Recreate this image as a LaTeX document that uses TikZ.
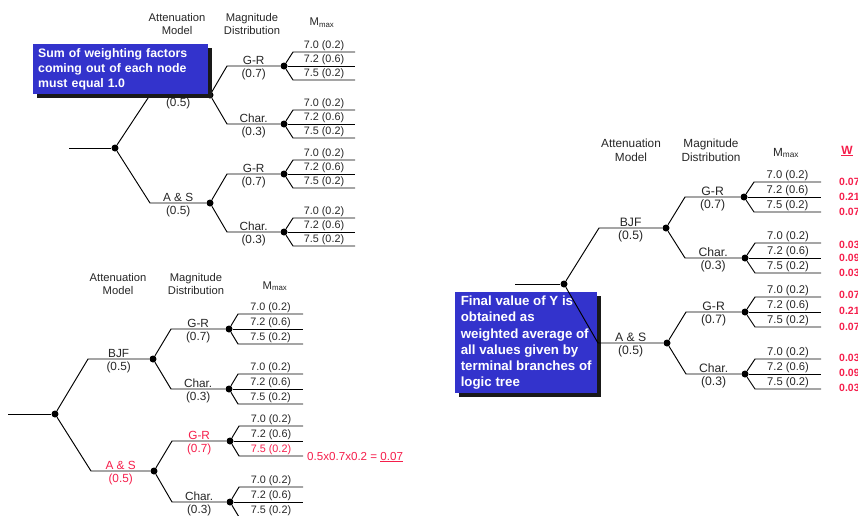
\documentclass[tikz,border=0pt]{standalone}
\usepackage{fontspec}
\setmainfont{Liberation Sans}
\usetikzlibrary{shadows}
\definecolor{tred}{RGB}{245,30,75}
\definecolor{nblue}{RGB}{51,51,204}
% branch: #1 parent, #2 child, #3 bend x, #4 y, #5 child x, #6 top label, #7 bottom label, #8 colour
\newcommand\treebr[8]{%
  \coordinate (#2b) at (#3,#4);
  \node[dot] (#2) at (#5,#4) {};
  \draw[ln] (#1) -- (#2b) -- (#2);
  \path (#2b) -- (#2) node[midway, above, tl, inner ysep=0.8pt, text=#8] (#2t) {#6}
                      node[midway, below, tl, inner ysep=2.6pt, text=#8] (#2l) {#7};
}
% fan: #1 node, #2 x, #3 y, #4 end x, #5 dy, #6 bend dx, #7 colour of third label
\newcommand\mfan[7]{%
  \coordinate (#1ub) at ({#2+#6},{#3-#5});
  \coordinate (#1ue) at (#4,{#3-#5});
  \coordinate (#1mb) at ({#2+#6},#3);
  \coordinate (#1me) at (#4,#3);
  \coordinate (#1lb) at ({#2+#6},{#3+#5});
  \coordinate (#1le) at (#4,{#3+#5});
  \draw[ln] (#1) -- (#1ub) -- (#1ue);
  \draw[ln] (#1) -- (#1me);
  \draw[ln] (#1) -- (#1lb) -- (#1le);
  \path (#1ub) -- (#1ue) node[midway, fl] (#1x) {7.0 (0.2)};
  \path (#1mb) -- (#1me) node[midway, fl] (#1y) {7.2 (0.6)};
  \path (#1lb) -- (#1le) node[midway, fl, text=#7] (#1z) {7.5 (0.2)};
}
\tikzset{
  ln/.style={line width=0.95pt, draw=black},
  dot/.style={circle, fill=black, inner sep=0pt, minimum size=7pt},
  hdr/.style={align=center, inner sep=0pt, text=black!85},
  tl/.style={font=\fontsize{11.8}{13}\selectfont, inner xsep=1pt, text=black!85},
  fl/.style={font=\fontsize{10.8}{12}\selectfont, above, inner sep=0.6pt, text=black!85},
  note/.style={fill=nblue, text=white, align=left, anchor=north west, inner ysep=2pt,
    drop shadow={fill=black!90, opacity=1, shadow xshift=4pt, shadow yshift=-4pt}},
  wv/.style={anchor=west, text=tred, font=\bfseries\fontsize{10.5}{12}\selectfont, inner sep=0pt}
}
\begin{document}
\begin{tikzpicture}[x=1pt, y=-1pt]
\useasboundingbox (0,0) rectangle (858,515);
% ---------------- tree A (top left) ----------------
\begin{scope}[hdr/.append style={font=\fontsize{11.2}{13.5}\selectfont}]
\node[hdr] (hA1) at (177,24) {Attenuation\\Model};
\node[hdr] (hA2) at (252,24) {Magnitude\\Distribution};
\node[hdr] (hA3) at (322,23) {M\textsubscript{max}};
\coordinate (rA) at (69,148);
\node[dot] (A0) at (115,148) {};
\draw[ln] (rA) -- (A0);
\treebr{A0}{A1}{150}{95}{210}{BJF}{(0.5)}{black!85}
\treebr{A0}{A2}{150}{203}{210}{A \& S}{(0.5)}{black!85}
\treebr{A1}{A11}{227}{66}{284}{G-R}{(0.7)}{black!85}
\treebr{A1}{A12}{227}{124}{284}{Char.}{(0.3)}{black!85}
\treebr{A2}{A21}{227}{174}{284}{G-R}{(0.7)}{black!85}
\treebr{A2}{A22}{227}{232}{284}{Char.}{(0.3)}{black!85}
\mfan{A11}{284}{66}{355}{14}{9}{black!85}
\mfan{A12}{284}{124}{355}{14}{9}{black!85}
\mfan{A21}{284}{174}{355}{14}{9}{black!85}
\mfan{A22}{284}{232}{355}{14}{9}{black!85}
\node[note, text width=165pt, inner xsep=5pt, minimum height=50pt,
      font=\bfseries\fontsize{12.3}{15}\selectfont] (noteA) at (33,44)
  {Sum of weighting factors\\coming out of each node\\must equal 1.0};
\end{scope}
% ---------------- tree B (bottom left) ----------------
\begin{scope}[hdr/.append style={font=\fontsize{11.2}{13.5}\selectfont}]
\node[hdr] (hB1) at (118,284) {Attenuation\\Model};
\node[hdr] (hB2) at (196,284) {Magnitude\\Distribution};
\node[hdr] (hB3) at (275,286) {M\textsubscript{max}};
\coordinate (rB) at (8,414);
\node[dot] (B0) at (55,414) {};
\draw[ln] (rB) -- (B0);
\treebr{B0}{B1}{88}{359}{153}{BJF}{(0.5)}{black!85}
\treebr{B0}{B2}{91}{471}{154}{A \& S}{(0.5)}{tred}
\treebr{B1}{B11}{171}{329}{229}{G-R}{(0.7)}{black!85}
\treebr{B1}{B12}{171}{389}{229}{Char.}{(0.3)}{black!85}
\treebr{B2}{B21}{172}{441}{230}{G-R}{(0.7)}{tred}
\treebr{B2}{B22}{172}{502}{230}{Char.}{(0.3)}{black!85}
\mfan{B11}{229}{329}{303}{15}{9}{black!85}
\mfan{B12}{229}{389}{303}{15}{9}{black!85}
\mfan{B21}{230}{441}{303}{15}{9}{tred}
\mfan{B22}{230}{502}{303}{15}{9}{black!85}
\node[anchor=west, text=tred, inner sep=0pt, font=\fontsize{11.6}{13}\selectfont] (prod) at (307,457)
  {0.5x0.7x0.2 = \underline{0.07}};
\end{scope}
% ---------------- tree C (right) ----------------
\begin{scope}[hdr/.append style={font=\fontsize{11.8}{14}\selectfont},
  tl/.style={font=\fontsize{12.2}{13}\selectfont, inner xsep=1pt, text=black!85},
  fl/.style={font=\fontsize{11.2}{12}\selectfont, above, inner sep=0.6pt, text=black!85}]
\node[note, minimum width=142pt, inner xsep=5pt, minimum height=101pt,
      font=\bfseries\fontsize{13.3}{16.2}\selectfont] (noteC) at (455,292)
  {Final value of Y is\\obtained as\\weighted average of\\all values given by\\terminal branches of\\logic tree};
\node[hdr] (hC1) at (631,150) {Attenuation\\Model};
\node[hdr] (hC2) at (711,150) {Magnitude\\Distribution};
\node[hdr] (hC3) at (786,153) {M\textsubscript{max}};
\node[hdr, text=tred, font=\bfseries\fontsize{12}{14}\selectfont] (hC4) at (847,151) {\underline{W}};
\coordinate (rC) at (515,284);
\node[dot] (C0) at (564,284) {};
\draw[ln] (rC) -- (C0);
\treebr{C0}{C1}{599}{228}{666}{BJF}{(0.5)}{black!85}
\treebr{C0}{C2}{598}{343}{667}{A \& S}{(0.5)}{black!85}
\treebr{C1}{C11}{685}{197}{744}{G-R}{(0.7)}{black!85}
\treebr{C1}{C12}{685}{258}{745}{Char.}{(0.3)}{black!85}
\treebr{C2}{C21}{686}{312}{745}{G-R}{(0.7)}{black!85}
\treebr{C2}{C22}{686}{374}{745}{Char.}{(0.3)}{black!85}
\mfan{C11}{744}{197}{821}{15}{10}{black!85}
\mfan{C12}{745}{258}{821}{15}{10}{black!85}
\mfan{C21}{745}{312}{821}{15}{10}{black!85}
\mfan{C22}{745}{374}{821}{15}{10}{black!85}
\node[wv] (w1) at (839,182) {0.07};
\node[wv] (w2) at (839,197) {0.21};
\node[wv] (w3) at (839,212) {0.07};
\node[wv] (w4) at (839,245) {0.03};
\node[wv] (w5) at (839,258) {0.09};
\node[wv] (w6) at (839,273) {0.03};
\node[wv] (w7) at (839,295) {0.07};
\node[wv] (w8) at (839,311) {0.21};
\node[wv] (w9) at (839,327) {0.07};
\node[wv] (w10) at (839,358) {0.03};
\node[wv] (w11) at (839,373) {0.09};
\node[wv] (w12) at (839,388) {0.03};
\end{scope}
\end{tikzpicture}
\end{document}
